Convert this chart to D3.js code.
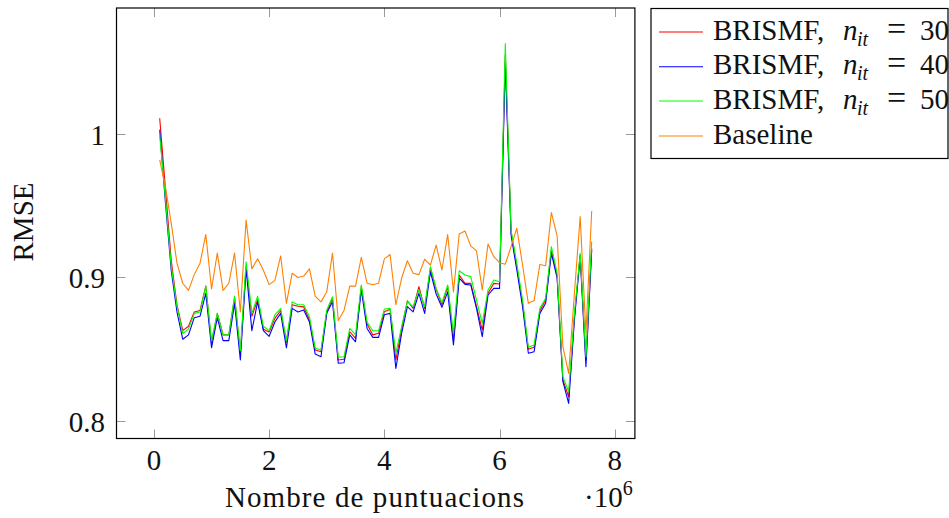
<!DOCTYPE html>
<html>
<head>
<meta charset="utf-8">
<script src="https://cdn.jsdelivr.net/npm/d3@7"></script>
<style>
  body { margin: 0; background: #fff; }
  svg { display: block; font-family: "Liberation Serif", "DejaVu Serif", serif; }
</style>
</head>
<body>
<svg id="chart" width="949" height="518"></svg>
<script>
// number of ratings, in units of 10^6
const ratings = [0.1,0.2,0.3,0.4,0.5,0.6,0.7,0.8,0.9,1.0,1.1,1.2,1.3,1.4,1.5,1.6,1.7,1.8,1.9,2.0,
  2.1,2.2,2.3,2.4,2.5,2.6,2.7,2.8,2.9,3.0,3.1,3.2,3.3,3.4,3.5,3.6,3.7,3.8,3.9,4.0,
  4.1,4.2,4.3,4.4,4.5,4.6,4.7,4.8,4.9,5.0,5.1,5.2,5.3,5.4,5.5,5.6,5.7,5.8,5.9,6.0,
  6.1,6.2,6.3,6.4,6.5,6.6,6.7,6.8,6.9,7.0,7.1,7.2,7.3,7.4,7.5,7.6];

const brismf30 = [1.011,0.962,0.912,0.881,0.863,0.866,0.876,0.877,0.894,0.854,0.875,0.860,0.860,0.886,0.847,0.9075,0.873,0.8845,0.864,0.862,
  0.8715,0.877,0.855,0.881,0.880,0.8795,0.8704,0.8495,0.8483,0.876,0.8855,0.8425,0.843,0.8622,0.8575,0.8936,0.8676,0.860,0.8611,0.8762,
  0.8778,0.8425,0.864,0.8838,0.8785,0.8936,0.8785,0.9063,0.8918,0.881,0.8936,0.8564,0.9017,0.8959,0.8959,0.8797,0.8634,0.889,0.8959,0.8955,
  1.055,0.932,0.9075,0.882,0.850,0.8514,0.8769,0.8843,0.9192,0.9006,0.8286,0.8169,0.8727,0.9157,0.8425,0.9204];

const brismf40 = [1.003,0.952,0.905,0.876,0.857,0.860,0.872,0.873,0.889,0.851,0.872,0.856,0.856,0.882,0.8425,0.906,0.863,0.883,0.863,0.859,
  0.869,0.875,0.851,0.8785,0.876,0.8774,0.869,0.8466,0.8448,0.875,0.8831,0.8402,0.8406,0.860,0.8552,0.8913,0.8645,0.8583,0.8583,0.874,
  0.875,0.8367,0.8611,0.8797,0.876,0.889,0.875,0.904,0.8885,0.8792,0.890,0.853,0.8995,0.8952,0.8948,0.8785,0.8588,0.8878,0.8924,0.8924,
  1.050,0.9296,0.9052,0.8797,0.8472,0.8483,0.875,0.882,0.9168,0.8995,0.8274,0.8123,0.8704,0.915,0.8378,0.9192];

const brismf50 = [0.999,0.955,0.908,0.880,0.861,0.864,0.875,0.876,0.894,0.856,0.875,0.860,0.860,0.887,0.849,0.911,0.875,0.887,0.866,0.863,
  0.874,0.8785,0.856,0.883,0.881,0.881,0.8727,0.8507,0.8495,0.8774,0.8866,0.8444,0.8448,0.8645,0.860,0.8948,0.869,0.8629,0.8629,0.878,
  0.8785,0.8471,0.8657,0.8831,0.8797,0.8913,0.8797,0.9075,0.8922,0.8824,0.8948,0.8611,0.9047,0.9017,0.9006,0.8843,0.868,0.8913,0.8983,0.8971,
  1.063,0.9331,0.9098,0.8843,0.8514,0.853,0.8785,0.8855,0.9215,0.903,0.8309,0.8204,0.875,0.9168,0.8448,0.925];

const baseline = [0.982,0.963,0.938,0.910,0.896,0.891,0.902,0.910,0.930,0.892,0.917,0.891,0.896,0.917,0.876,0.940,0.906,0.913,0.905,0.895,
  0.898,0.915,0.882,0.903,0.900,0.901,0.906,0.887,0.883,0.890,0.917,0.870,0.877,0.894,0.894,0.914,0.896,0.895,0.896,0.913,
  0.916,0.881,0.8995,0.9117,0.9029,0.902,0.9127,0.9087,0.9226,0.9052,0.930,0.890,0.9303,0.9324,0.922,0.9185,0.8913,0.9233,0.9145,0.9103,
  0.9092,0.9215,0.9343,0.9087,0.882,0.8839,0.9091,0.9082,0.9452,0.9289,0.8518,0.8332,0.889,0.9424,0.8611,0.9464];

const seriesNames = ['BRISMF, n_it = 30', 'BRISMF, n_it = 40', 'BRISMF, n_it = 50', 'Baseline'];
const seriesColors = ['#ff0000', '#0000ff', '#00ff00', '#ff8000'];
const xTicks = [0, 2, 4, 6, 8];
const yTicks = [0.8, 0.9, 1];

const series = [brismf30, brismf40, brismf50, baseline];

const svg = d3.select('#chart');
const plot = {left: 116.5, right: 634.9, top: 8, bottom: 438.5};

const x = d3.scaleLinear().domain([-0.65, 8.35]).range([plot.left, plot.right]);
const y = d3.scaleLinear().domain([0.7878, 1.0878]).range([plot.bottom, plot.top]);

// clip so lines stay inside the frame
svg.append('clipPath').attr('id', 'clip').append('rect')
  .attr('x', plot.left).attr('y', plot.top)
  .attr('width', plot.right - plot.left).attr('height', plot.bottom - plot.top);

// ticks (inside, on all four sides)
const tickLen = 9;
const ticks = svg.append('g').attr('stroke', '#9a9a9a').attr('stroke-width', 1);
xTicks.forEach(t => {
  const px = Math.round(x(t)) + 0.5;
  ticks.append('line').attr('x1', px).attr('x2', px).attr('y1', plot.bottom).attr('y2', plot.bottom - tickLen);
  ticks.append('line').attr('x1', px).attr('x2', px).attr('y1', plot.top).attr('y2', plot.top + tickLen);
});
yTicks.forEach(t => {
  const py = Math.round(y(t)) + 0.5;
  ticks.append('line').attr('x1', plot.left).attr('x2', plot.left + tickLen).attr('y1', py).attr('y2', py);
  ticks.append('line').attr('x1', plot.right).attr('x2', plot.right - tickLen).attr('y1', py).attr('y2', py);
});

// data lines
const line = d3.line().x((d, i) => x(ratings[i])).y(d => y(d));
const lines = svg.append('g').attr('clip-path', 'url(#clip)');
series.forEach((s, k) => {
  lines.append('path').datum(s)
    .attr('d', line)
    .attr('fill', 'none')
    .attr('stroke', seriesColors[k])
    .attr('stroke-width', 1.1)
    .attr('stroke-linejoin', 'round');
});

// frame
svg.append('rect')
  .attr('x', plot.left).attr('y', plot.top)
  .attr('width', plot.right - plot.left).attr('height', plot.bottom - plot.top)
  .attr('fill', 'none').attr('stroke', '#000').attr('stroke-width', 1.2);

// tick labels
const fs = 29;
xTicks.forEach(t => {
  svg.append('text').attr('x', x(t)).attr('y', 470).attr('text-anchor', 'middle')
    .attr('font-size', fs).attr('fill', '#111').text(t);
});
yTicks.forEach(t => {
  svg.append('text').attr('x', 105).attr('y', y(t) + 11).attr('text-anchor', 'end')
    .attr('font-size', fs).attr('fill', '#111').text(t === 1 ? '1' : t.toFixed(1));
});

// axis labels
svg.append('text').attr('x', 375).attr('y', 507).attr('text-anchor', 'middle')
  .attr('font-size', fs).attr('letter-spacing', 1.1).attr('fill', '#111').text('Nombre de puntuacions');
const sci = svg.append('text').attr('x', 584).attr('y', 507).attr('font-size', fs).attr('fill', '#111');
sci.append('tspan').text('·10');
sci.append('tspan').attr('dy', -12).attr('font-size', 20).text('6');

svg.append('text').attr('transform', 'translate(33,222) rotate(-90)')
  .attr('text-anchor', 'middle').attr('font-size', fs).attr('fill', '#111').text('RMSE');

// legend
const legend = svg.append('g');
legend.append('rect').attr('x', 651).attr('y', 8.5).attr('width', 297).attr('height', 150)
  .attr('fill', '#fff').attr('stroke', '#000').attr('stroke-width', 1.2);
const rowY = [32, 66.7, 101, 136];
seriesNames.forEach((name, k) => {
  const by = rowY[k] + 7.5;
  legend.append('line').attr('x1', 659).attr('x2', 703).attr('y1', rowY[k]).attr('y2', rowY[k])
    .attr('stroke', seriesColors[k]).attr('stroke-width', 1.1);
  const m = name.match(/^(.*), n_it = (\d+)$/);
  const g = legend.append('g').attr('font-size', fs).attr('fill', '#111');
  if (m) {
    g.append('text').attr('x', 713).attr('y', by).text(m[1] + ',');
    g.append('text').attr('x', 843).attr('y', by).attr('font-style', 'italic').text('n');
    g.append('text').attr('x', 857).attr('y', by + 6).attr('font-style', 'italic').attr('font-size', 20).text('it');
    g.append('text').attr('x', 887).attr('y', by).attr('font-size', 34).attr('transform', `translate(0,0)`).text('=');
    g.append('text').attr('x', 920).attr('y', by).text(m[2]);
  } else {
    g.append('text').attr('x', 713).attr('y', by).text(name);
  }
});
</script>
</body>
</html>
